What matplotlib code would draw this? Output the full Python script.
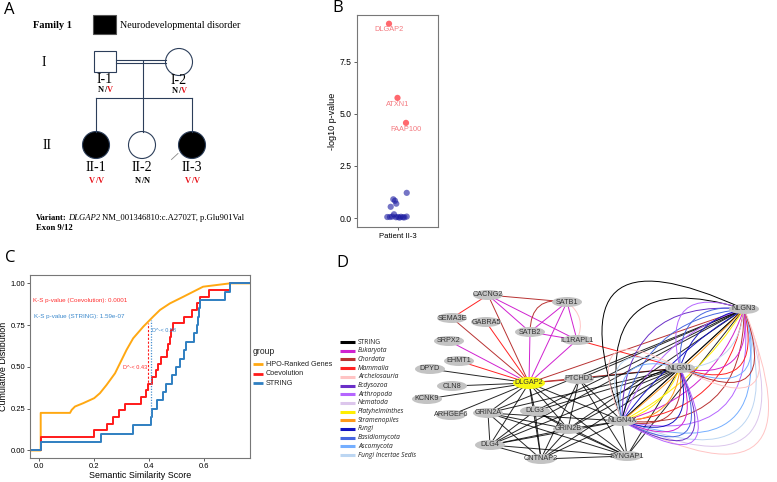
import numpy as np
import matplotlib.pyplot as plt
from matplotlib.patches import Rectangle, Circle, Ellipse, FancyArrowPatch

plt.rcParams['font.family'] = ['Liberation Sans', 'DejaVu Sans']

# ---------------- A: pedigree ----------------
ped_ids = ['I-1', 'I-2', 'II-1', 'II-2', 'II-3']
ped_geno = ['N/V', 'N/V', 'V/V', 'N/N', 'V/V']
ped_affected = [False, False, True, False, True]
ped_male = [True, False, False, False, False]

# ---------------- B: p-values ----------------
b_genes = ['DLGAP2', 'ATXN1', 'FAAP100']
b_sig_x = [-0.105, 0.0, 0.105]
b_sig_y = [9.33, 5.77, 4.57]
b_ns_x = [0.114, -0.052, -0.031, -0.015, -0.084, -0.043, -0.126, -0.093,
          -0.065, -0.019, 0.006, 0.025, 0.043, 0.068, 0.114, 0.085]
b_ns_y = [1.21, 0.90, 0.83, 0.69, 0.54, 0.18, 0.05, 0.05,
          0.07, 0.04, 0.05, 0.02, 0.06, 0.04, 0.07, 0.03]

# ---------------- C: cumulative distributions ----------------
hpo_x = [-0.034, 0.005, 0.005, 0.112, 0.118, 0.130, 0.160, 0.200, 0.221, 0.245,
         0.276, 0.300, 0.318, 0.342, 0.379, 0.397, 0.415, 0.440, 0.476, 0.525,
         0.561, 0.597, 0.646, 0.695, 0.768]
hpo_y = [0.0, 0.0, 0.225, 0.225, 0.243, 0.263, 0.283, 0.313, 0.343, 0.392,
         0.462, 0.542, 0.602, 0.671, 0.741, 0.771, 0.801, 0.841, 0.880, 0.920,
         0.950, 0.980, 0.990, 1.0, 1.0]
coev_x = [-0.034, 0.005, 0.200, 0.245, 0.270, 0.290, 0.312, 0.372, 0.388, 0.397,
          0.412, 0.425, 0.432, 0.442, 0.465, 0.470, 0.475, 0.480, 0.486, 0.527,
          0.555, 0.573, 0.585, 0.620, 0.695, 0.768]
coev_y = [0.0, 0.08, 0.12, 0.16, 0.20, 0.24, 0.28, 0.32, 0.36, 0.40,
          0.44, 0.48, 0.52, 0.56, 0.60, 0.64, 0.68, 0.72, 0.76, 0.80,
          0.84, 0.88, 0.92, 0.96, 1.0, 1.0]
str_x = [-0.034, 0.005, 0.225, 0.342, 0.408, 0.412, 0.430, 0.450, 0.462, 0.482,
         0.500, 0.512, 0.527, 0.535, 0.563, 0.573, 0.577, 0.581, 0.585, 0.676,
         0.695, 0.768]
str_y = [0.0, 0.05, 0.10, 0.15, 0.20, 0.25, 0.30, 0.35, 0.40, 0.45,
         0.50, 0.55, 0.60, 0.65, 0.70, 0.75, 0.80, 0.85, 0.90, 0.95,
         1.0, 1.0]
groups = ['HPO-Ranked Genes', 'Coevolution', 'STRING']
group_colors = ['#ffa812', '#ff1a1a', '#2f7fc1']

# ---------------- D: network ----------------
node_names = ['CACNG2', 'SATB1', 'SEMA3E', 'GABRA5', 'SATB2', 'IL1RAPL1', 'SRPX2',
              'EHMT1', 'DPYD', 'DLGAP2', 'PTCHD1', 'CLN8', 'KCNK9', 'ARHGEF6',
              'GRIN2A', 'DLG3', 'GRIN2B', 'NLGN4X', 'DLG4', 'CNTNAP2', 'SYNGAP1',
              'NLGN1', 'NLGN3']
node_px = [488, 567, 452, 486, 530, 577, 449, 459, 430, 529, 579, 452, 427, 451,
           488, 535, 568, 622, 490, 541, 627, 680, 744]
node_py = [295, 302, 318, 322, 332, 340, 341, 361, 369, 383, 379, 386, 399, 415,
           413, 411, 429, 421, 445, 459, 456, 368, 309]

taxa = ['STRING', 'Eukaryota', 'Chordata', 'Mammalia', 'Archelosauria', 'Ecdysozoa',
        'Arthropoda', 'Nematoda', 'Platyhelminthes', 'Stramenopiles', 'Fungi',
        'Basidiomycota', 'Ascomycota', 'Fungi Incertae Sedis']
taxa_colors = ['#000000', '#d021d0', '#b83232', '#ff2222', '#ffc4c4', '#6a2fc8',
               '#b565ff', '#dcc6ec', '#ffee00', '#ff9a1a', '#1212c0', '#4766e0',
               '#74aeff', '#bcd6f2']

edges = [
    ('DLGAP2', 'CACNG2', 'Chordata'), ('DLGAP2', 'SEMA3E', 'Chordata'),
    ('DLGAP2', 'GABRA5', 'Mammalia'), ('DLGAP2', 'SRPX2', 'Eukaryota'),
    ('DLGAP2', 'EHMT1', 'Mammalia'), ('DLGAP2', 'DPYD', 'STRING'),
    ('DLGAP2', 'CLN8', 'STRING'), ('DLGAP2', 'KCNK9', 'STRING'),
    ('DLGAP2', 'ARHGEF6', 'STRING'), ('DLGAP2', 'SATB2', 'Eukaryota'),
    ('DLGAP2', 'SATB1', 'Eukaryota'), ('DLGAP2', 'IL1RAPL1', 'Eukaryota'),
    ('DLGAP2', 'PTCHD1', 'Chordata'), ('DLGAP2', 'GRIN2A', 'STRING'),
    ('DLGAP2', 'DLG3', 'STRING'), ('DLGAP2', 'GRIN2B', 'STRING'),
    ('DLGAP2', 'DLG4', 'STRING'), ('DLGAP2', 'CNTNAP2', 'STRING'),
    ('DLGAP2', 'SYNGAP1', 'STRING'), ('DLGAP2', 'NLGN4X', 'STRING'),
    ('DLGAP2', 'NLGN1', 'Chordata'), ('DLGAP2', 'NLGN3', 'Chordata'),
    ('CACNG2', 'SATB1', 'Chordata'), ('CACNG2', 'SEMA3E', 'Mammalia'),
    ('CACNG2', 'SATB2', 'Eukaryota'), ('CACNG2', 'IL1RAPL1', 'Eukaryota'),
    ('SATB1', 'SATB2', 'Eukaryota'), ('SATB1', 'IL1RAPL1', 'Eukaryota'),
    ('SATB2', 'IL1RAPL1', 'Eukaryota'), ('IL1RAPL1', 'NLGN1', 'Mammalia'),
    ('GRIN2A', 'DLG4', 'STRING'), ('GRIN2A', 'CNTNAP2', 'STRING'),
    ('GRIN2A', 'GRIN2B', 'STRING'), ('GRIN2A', 'SYNGAP1', 'STRING'),
    ('GRIN2A', 'NLGN4X', 'STRING'), ('GRIN2A', 'NLGN1', 'STRING'),
    ('GRIN2A', 'NLGN3', 'STRING'), ('DLG3', 'DLG4', 'STRING'),
    ('DLG3', 'CNTNAP2', 'STRING'), ('DLG3', 'SYNGAP1', 'STRING'),
    ('DLG3', 'GRIN2B', 'STRING'), ('DLG3', 'NLGN1', 'STRING'),
    ('DLG3', 'NLGN3', 'STRING'), ('DLG4', 'CNTNAP2', 'STRING'),
    ('DLG4', 'GRIN2B', 'STRING'), ('DLG4', 'NLGN4X', 'STRING'),
    ('DLG4', 'NLGN1', 'STRING'), ('DLG4', 'NLGN3', 'STRING'),
    ('DLG4', 'SYNGAP1', 'STRING'), ('CNTNAP2', 'SYNGAP1', 'STRING'),
    ('CNTNAP2', 'GRIN2B', 'STRING'), ('CNTNAP2', 'NLGN4X', 'STRING'),
    ('CNTNAP2', 'NLGN1', 'STRING'), ('CNTNAP2', 'PTCHD1', 'STRING'),
    ('GRIN2B', 'SYNGAP1', 'STRING'), ('GRIN2B', 'NLGN4X', 'STRING'),
    ('GRIN2B', 'NLGN1', 'STRING'), ('GRIN2B', 'NLGN3', 'STRING'),
    ('PTCHD1', 'SYNGAP1', 'STRING'), ('PTCHD1', 'NLGN4X', 'STRING'),
    ('PTCHD1', 'GRIN2B', 'STRING'), ('PTCHD1', 'NLGN3', 'STRING'),
    ('PTCHD1', 'NLGN1', 'STRING'), ('SYNGAP1', 'NLGN4X', 'STRING'),
    ('SYNGAP1', 'NLGN1', 'STRING'), ('SYNGAP1', 'NLGN3', 'STRING'),
    ('NLGN4X', 'NLGN1', 'STRING'), ('NLGN4X', 'NLGN3', 'STRING'),
    ('NLGN1', 'NLGN3', 'STRING'),
]

arcs = [
    ('SATB2', 'SATB1', 'Chordata', -0.6), ('SATB1', 'IL1RAPL1', 'Archelosauria', -0.4),
    ('NLGN4X', 'NLGN3', 'STRING', -1.2), ('NLGN4X', 'NLGN3', 'STRING', -0.85),
    ('NLGN4X', 'NLGN3', 'Ecdysozoa', -0.55), ('NLGN4X', 'NLGN3', 'Basidiomycota', -0.38),
    ('NLGN4X', 'NLGN3', 'Arthropoda', -0.24), ('NLGN4X', 'NLGN3', 'Fungi', -0.1),
    ('NLGN4X', 'NLGN3', 'Stramenopiles', 0.03), ('NLGN4X', 'NLGN3', 'Platyhelminthes', 0.14),
    ('NLGN4X', 'NLGN3', 'Eukaryota', 0.27), ('NLGN4X', 'NLGN3', 'Mammalia', 0.4),
    ('NLGN4X', 'NLGN3', 'Chordata', 0.55), ('NLGN4X', 'NLGN3', 'Arthropoda', 0.7),
    ('NLGN4X', 'NLGN3', 'Ascomycota', 0.88), ('NLGN4X', 'NLGN3', 'Fungi Incertae Sedis', 1.02),
    ('NLGN4X', 'NLGN3', 'Nematoda', 1.15), ('NLGN4X', 'NLGN3', 'Archelosauria', 1.3),
    ('NLGN4X', 'NLGN1', 'Archelosauria', -1.4), ('NLGN4X', 'NLGN1', 'Fungi Incertae Sedis', -1.1),
    ('NLGN4X', 'NLGN1', 'Ascomycota', -0.8), ('NLGN4X', 'NLGN1', 'STRING', -0.4),
    ('NLGN4X', 'NLGN1', 'Platyhelminthes', 0.25), ('NLGN4X', 'NLGN1', 'Stramenopiles', 0.45),
    ('NLGN4X', 'NLGN1', 'Chordata', 0.7), ('NLGN4X', 'NLGN1', 'Fungi', 0.9),
    ('NLGN4X', 'NLGN1', 'Eukaryota', 1.1), ('NLGN4X', 'NLGN1', 'Basidiomycota', 1.3),
    ('NLGN4X', 'NLGN1', 'Ecdysozoa', 1.45), ('NLGN4X', 'NLGN1', 'Arthropoda', 1.6),
    ('NLGN1', 'NLGN3', 'Fungi', -0.3), ('NLGN1', 'NLGN3', 'Basidiomycota', -0.6),
    ('NLGN1', 'NLGN3', 'Arthropoda', -0.9), ('NLGN1', 'NLGN3', 'Fungi Incertae Sedis', 0.45),
    ('NLGN1', 'NLGN3', 'Eukaryota', 0.7), ('NLGN1', 'NLGN3', 'Mammalia', 0.9),
    ('NLGN1', 'NLGN3', 'Ascomycota', 1.05), ('NLGN1', 'NLGN3', 'Chordata', 1.2),
    ('NLGN1', 'NLGN3', 'Archelosauria', 1.4),
]

fig = plt.figure(figsize=(7.77, 4.82), dpi=100)

# overlay axes in pixel coordinates (for pedigree, network, legends)
ov = fig.add_axes([0, 0, 1, 1])
ov.set_xlim(0, 777)
ov.set_ylim(482, 0)
ov.axis('off')
rend = fig.canvas.get_renderer()


def text_runs(x, y, runs, center=False, gap=0.0, **kw):
    # draw pieces of text one after another on a baseline
    objs, widths = [], []
    for s, props in runs:
        t = ov.text(0, y, s, va='baseline', **kw, **props)
        objs.append(t)
        widths.append(t.get_window_extent(rend).width)
    total = sum(widths) + gap * (len(runs) - 1)
    x0 = x - total / 2 if center else x
    for t, w in zip(objs, widths):
        t.set_x(x0)
        x0 += w + gap


for lab, x, y in [('A', 9, 10), ('B', 337.5, 8), ('C', 10, 258), ('D', 342, 263)]:
    ov.text(x, y, lab, fontsize=12, family='Open Sans', ha='center', va='center')

# ---- pedigree
serif = 'Liberation Serif'
lc = '#2c3e5a'
red = '#e8131b'
ov.text(33, 25, 'Family 1', family=serif, fontweight='bold', fontsize=7.5, va='center')
ov.add_patch(Rectangle((93, 15), 23, 19, facecolor='black', edgecolor='#555555', lw=0.8))
ov.text(120, 25, 'Neurodevelopmental disorder', family=serif, fontsize=7.2, va='center')
ov.text(44, 66, 'I', family=serif, fontsize=10, ha='center', va='baseline')
ov.text(47, 149, 'II', family=serif, fontsize=10, ha='center', va='baseline')

ped_cx = [105, 179, 96, 142, 192]
ped_cy = [61, 62, 145, 145, 145]
r = 13.5
ov.plot([116, 166], [59.5, 59.5], color=lc, lw=0.8)
ov.plot([116, 166], [62.5, 62.5], color=lc, lw=0.8)
ov.plot([143, 143], [61, 131.5], color=lc, lw=0.8)
ov.plot([96, 192], [97.5, 97.5], color=lc, lw=0.8)
ov.plot([96, 96], [97.5, 131.5], color=lc, lw=0.8)
ov.plot([192, 192], [97.5, 131.5], color=lc, lw=0.8)
ov.plot([171.5, 178], [159.5, 153.5], color='#888888', lw=0.6)

for i, pid in enumerate(ped_ids):
    cx, cy = ped_cx[i], ped_cy[i]
    fc = 'black' if ped_affected[i] else 'white'
    if ped_male[i]:
        ov.add_patch(Rectangle((cx - 11, cy - 10.5), 22, 21, facecolor=fc, edgecolor=lc, lw=0.8))
    else:
        ov.add_patch(Circle((cx, cy), r, facecolor=fc, edgecolor=lc, lw=0.8))
    ly = cy + 22.2 if i < 2 else cy + 25.7
    ov.text(cx, ly, pid, family=serif, fontsize=10, ha='center', va='baseline')
    g = ped_geno[i]
    gy = cy + 31.3 if i < 2 else cy + 37.7
    cols = [red if ch == 'V' else 'black' for ch in g]
    if g == 'V/V':
        cols[1] = red
    text_runs(cx, gy, [(g[k], {'color': cols[k]}) for k in range(3)], center=True, gap=0.3,
              family=serif, fontweight='bold', fontsize=6)

text_runs(36, 220.3, [('Variant:', {'fontweight': 'bold'}), ('DLGAP2', {'style': 'italic'}),
                      ('NM_001346810:c.A2702T, p.Glu901Val', {})],
          gap=1.8, family=serif, fontsize=6.2)
ov.text(36, 230, 'Exon 9/12', family=serif, fontweight='bold', fontsize=6.2, va='baseline')

# ---- network
pos = {n: (node_px[i], node_py[i]) for i, n in enumerate(node_names)}
tcol = dict(zip(taxa, taxa_colors))
for a, b, t in edges:
    ov.plot([pos[a][0], pos[b][0]], [pos[a][1], pos[b][1]], color=tcol[t], lw=0.7, zorder=2,
            alpha=0.85 if t == 'STRING' else 1.0)
for a, b, t, rad in arcs:
    ov.add_patch(FancyArrowPatch(pos[a], pos[b], connectionstyle='arc3,rad=%s' % rad,
                                 arrowstyle='-', color=tcol[t], lw=0.7, shrinkA=0, shrinkB=0, zorder=2))
for n in node_names:
    x, y = pos[n]
    if n == 'DLGAP2':
        ov.add_patch(Ellipse((x, y), 32, 12, facecolor='#f7f711', edgecolor='none', zorder=3))
    else:
        ov.add_patch(Ellipse((x, y), 30, 10, facecolor='#c3c3c3', edgecolor='none', zorder=3))
    ov.text(x, y, n, fontsize=5.2, ha='center', va='center', color='#333333', zorder=4)

for i, t in enumerate(taxa):
    y = 342 + i * 8.7
    ov.plot([340, 355], [y, y], color=taxa_colors[i], lw=2.2, solid_capstyle='butt')
    ov.text(358, y, t, fontsize=4.8, family='Open Sans', style='normal' if i == 0 else 'italic',
            va='center', color='#222222')

# ---- C legend
ov.text(253, 351, 'group', fontsize=6.2, va='center', color='#222222')
for i, g in enumerate(groups):
    y = 364.3 + i * 9.4
    ov.plot([253, 263], [y, y], color=group_colors[i], lw=2, solid_capstyle='butt')
    ov.text(265.7, y, g, fontsize=5.2, va='center', color='#222222')

# ---------------- B axes ----------------
axb = fig.add_axes([357 / 777, 1 - 227 / 482, 81 / 777, 212 / 482])
axb.scatter(1 + np.array(b_ns_x), b_ns_y, s=20, color='#1a1aa0', alpha=0.6, edgecolors='none', zorder=3)
axb.scatter(1 + np.array(b_sig_x), b_sig_y, s=20, color='#ff4d55', alpha=0.85, edgecolors='none', zorder=3)
for i, gname in enumerate(b_genes):
    axb.text(1 + b_sig_x[i], b_sig_y[i] - 0.3, gname, fontsize=5.3, color='#f47a80',
             ha='center', va='center')
axb.set_xlim(0.5, 1.5)
axb.set_ylim(-0.43, 9.75)
axb.set_xticks([1])
axb.set_xticklabels(['Patient II-3'])
axb.set_yticks([0, 2.5, 5, 7.5])
axb.set_yticklabels(['0.0', '2.5', '5.0', '7.5'])
axb.set_ylabel('-log10 p-value', fontsize=6.5, labelpad=2)
axb.tick_params(axis='y', labelsize=6.2, length=2.5, width=0.6, pad=1.5, color='#444444')
axb.tick_params(axis='x', labelsize=5.6, length=2.5, width=0.6, pad=1.5, color='#444444')

# ---------------- C axes ----------------
axc = fig.add_axes([30 / 777, 1 - 458 / 482, 220 / 777, 183 / 482])
axc.plot(hpo_x, hpo_y, color=group_colors[0], lw=1.4)
axc.plot(coev_x, coev_y, color=group_colors[1], lw=1.4, drawstyle='steps-post')
axc.plot(str_x, str_y, color=group_colors[2], lw=1.4, drawstyle='steps-post')
axc.plot([0.395, 0.395], [0.36, 0.76], color='#ff1a1a', lw=0.8, ls=(0, (2, 1.5)))
axc.plot([0.408, 0.408], [0.20, 0.78], color='#4a90d0', lw=0.9, ls=(0, (1, 1.2)))
axc.text(-0.022, 0.896, 'K-S p-value (Coevolution): 0.0001', fontsize=4.5, color='#ff3030', va='center')
axc.text(-0.018, 0.80, 'K-S p-value (STRING): 1.59e-07', fontsize=4.5, color='#3a88cc', va='center')
axc.text(0.306, 0.498, 'D^-< 0.43', fontsize=4, color='#ff3030', va='center')
axc.text(0.411, 0.715, 'D^-< 0.58', fontsize=4, color='#3a88cc', va='center')
axc.set_xlim(-0.034, 0.768)
axc.set_ylim(-0.045, 1.05)
axc.set_xticks([0, 0.2, 0.4, 0.6])
axc.set_xticklabels(['0.0', '0.2', '0.4', '0.6'])
axc.set_yticks([0, 0.25, 0.5, 0.75, 1.0])
axc.set_yticklabels(['0.00', '0.25', '0.50', '0.75', '1.00'])
axc.set_xlabel('Semantic Similarity Score', fontsize=6.4, labelpad=1)
axc.set_ylabel('Cumulative Distibution', fontsize=6.4, labelpad=2)
axc.tick_params(labelsize=5.5, length=2, width=0.6, pad=1.5, color='#444444')

for a in (axb, axc):
    for s in a.spines.values():
        s.set_color('#777777')
        s.set_linewidth(0.8)

fig.savefig('out.png', dpi=100)
